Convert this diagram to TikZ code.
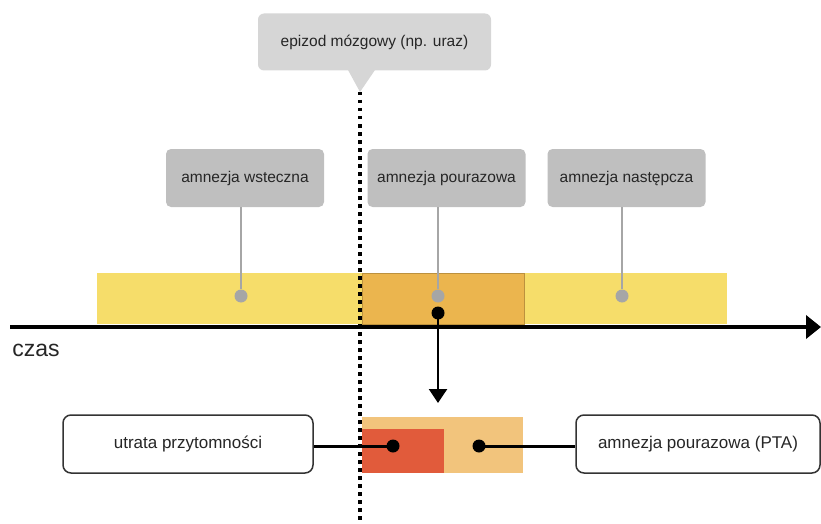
\documentclass[tikz,border=0pt]{standalone}
\usepackage{fontspec}
\setmainfont{Liberation Sans}
\usetikzlibrary{arrows.meta}
\definecolor{calloutgray}{HTML}{D6D6D6}
\definecolor{taggray}{HTML}{BFBFBF}
\definecolor{stemgray}{HTML}{A6A6A6}
\definecolor{barYellow}{HTML}{F6DD6A}
\definecolor{barOrange}{HTML}{EBB54E}
\definecolor{lightOrange}{HTML}{F2C47C}
\definecolor{lossRed}{HTML}{E15B3B}
\definecolor{txt}{HTML}{262626}
\begin{document}
\begin{tikzpicture}[x=1pt, y=-1pt, 
    tag/.style = {fill=taggray, rounded corners=5pt, minimum width=158pt, minimum height=58pt, inner sep=0pt, text=txt, font=\fontsize{15.5}{18}\selectfont},
    bar/.style = {inner sep=0pt, outer sep=0pt},
    gdot/.style = {circle, fill=stemgray, minimum size=13pt, inner sep=0pt},
    bdot/.style = {circle, fill=black, minimum size=13pt, inner sep=0pt},
    stem/.style = {stemgray, line width=2.5pt},
    link/.style = {black, line width=3pt},
    outbox/.style = {draw=black!80, line width=1.5pt, fill=white, rounded corners=8pt, minimum height=58pt, inner sep=0pt, text=txt, font=\fontsize{17}{20}\selectfont}]
    \useasboundingbox (0,0) rectangle (821,524);
    % callout on top
    \node[fill=calloutgray, rounded corners=6pt, minimum width=233pt, minimum height=57pt, inner sep=0pt, text=txt, font=\fontsize{15.5}{18}\selectfont] (episode) at (374.5,42) {epizod mózgowy (np. uraz)};
    \coordinate (tip) at (360,92);
    \fill[calloutgray] (348,70) -- (375,70) -- (tip) -- cycle;
    % bars on the time line
    \node[bar, fill=barYellow, minimum width=630pt, minimum height=51pt] (bar) at (412,298.5) {};
    \node[bar, fill=barOrange, draw=barOrange!80!black, line width=0.6pt, minimum width=162pt, minimum height=51pt] (pta) at (443,298.5) {};
    % time axis
    \coordinate (t0) at (10,327);
    \coordinate (t1) at (821,327);
    \draw[line width=4.5pt, -{Triangle[length=15pt,width=23pt]}] (t0) -- (t1);
    \node[text=txt, font=\fontsize{23}{26}\selectfont] (czas) at (36,350) {czas};
    % labels above
    \node[tag] (retro) at (245,178) {amnezja wsteczna};
    \node[tag] (post) at (446.5,178) {amnezja pourazowa};
    \node[tag] (antero) at (626.5,178) {amnezja następcza};
    \node[gdot] (d1) at (241,296) {};
    \node[gdot] (d2) at (438,296) {};
    \node[gdot] (d3) at (622,296) {};
    \draw[stem] (d1 |- retro.south) -- (d1);
    \draw[stem] (d2 |- post.south) -- (d2);
    \draw[stem] (d3 |- antero.south) -- (d3);
    % zoom below
    \node[bdot] (src) at (438,313) {};
    \coordinate (arr) at (438,403);
    \draw[line width=2.5pt, -{Triangle[length=14pt,width=18pt]}] (src.center) -- (arr);
    \node[bar, fill=lightOrange, minimum width=161pt, minimum height=56pt] (ptabox) at (442.5,445) {};
    \node[bar, fill=lossRed, minimum width=82pt, minimum height=44pt] (lossbox) at (403,451) {};
    \node[outbox, minimum width=250pt] (loss) at (188,444) {utrata przytomności};
    \node[outbox, minimum width=244pt] (ptalabel) at (698,444) {amnezja pourazowa (PTA)};
    \node[bdot] (l1) at (393,446) {};
    \node[bdot] (l2) at (479,446) {};
    \draw[link] (l1.center) -- (l1 -| loss.east);
    \draw[link] (l2.center) -- (l2 -| ptalabel.west);
    % moment of the episode
    \draw[line width=3.5pt, dash pattern=on 3.5pt off 4.5pt] (tip) -- (360,524);
\end{tikzpicture}
\end{document}
